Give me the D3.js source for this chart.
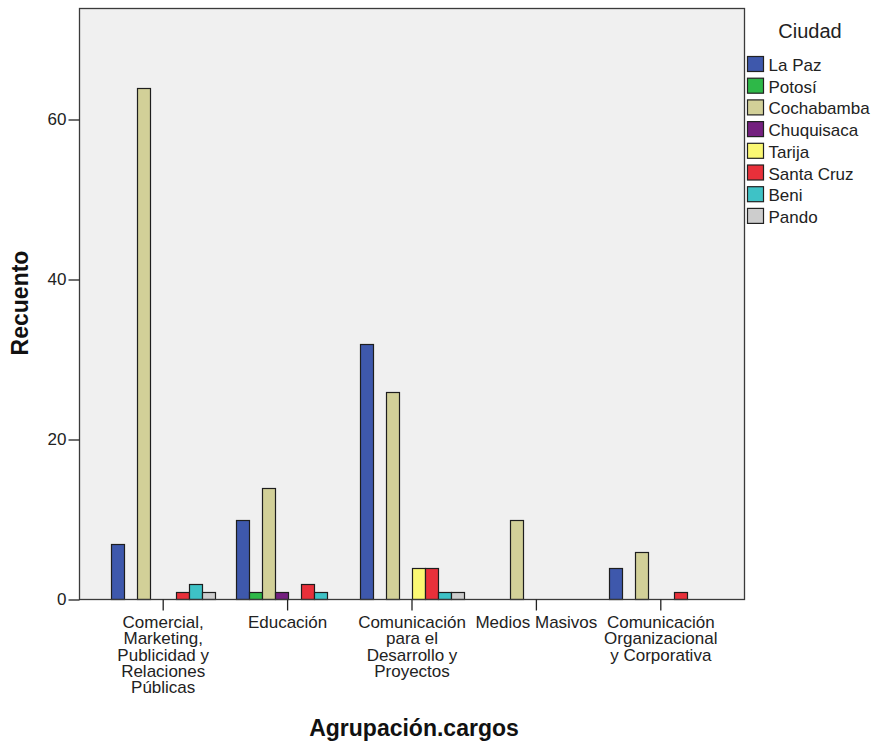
<!DOCTYPE html>
<html><head><meta charset="utf-8">
<script src="https://cdn.jsdelivr.net/npm/d3@7"></script>
<style>body{margin:0;background:#fff}svg{display:block}text{font-family:"Liberation Sans",Arial,sans-serif}</style>
</head><body><svg id="c" width="874" height="744"></svg>
<script>
const categories = ["Comercial, Marketing, Publicidad y Relaciones Públicas","Educación","Comunicación para el Desarrollo y Proyectos","Medios Masivos","Comunicación Organizacional y Corporativa"];
const categoryLines = [["Comercial,","Marketing,","Publicidad y","Relaciones","Públicas"],["Educación"],["Comunicación","para el","Desarrollo y","Proyectos"],["Medios Masivos"],["Comunicación","Organizacional","y Corporativa"]];
const cities = ["La Paz","Potosí","Cochabamba","Chuquisaca","Tarija","Santa Cruz","Beni","Pando"];
const cityColors = ["#3e58ac","#2eb848","#d2d098","#74207f","#fbf873","#e8303a","#3ec2c6","#cdcdcd"];
const laPaz      = [7, 10, 32, 0, 4];
const potosi     = [0, 1, 0, 0, 0];
const cochabamba = [64, 14, 26, 10, 6];
const chuquisaca = [0, 1, 0, 0, 0];
const tarija     = [0, 0, 4, 0, 0];
const santaCruz  = [1, 2, 4, 0, 1];
const beni       = [2, 1, 1, 0, 0];
const pando      = [1, 0, 1, 0, 0];
const yTicks = [0, 20, 40, 60];
const series = [laPaz, potosi, cochabamba, chuquisaca, tarija, santaCruz, beni, pando];

const svg = d3.select("#c");
const L = 79.5, R = 744.5, T = 8.5, B = 599.5;
const x0 = d3.scaleBand().domain(categories).range([L + 21.5, R - 21.5]).paddingInner(0.163).paddingOuter(0.0815);
const x1 = d3.scaleBand().domain(cities).range([0, x0.bandwidth()]);
const y = d3.scaleLinear().domain([0, 73.875]).range([B, T]);

svg.append("rect").attr("x", L).attr("y", T).attr("width", R - L).attr("height", B - T).attr("fill", "#f0f0f0");

const groups = svg.append("g").selectAll("g").data(categories).join("g");
groups.selectAll("rect").data((d, i) => cities.map((c, j) => ({cat: d, c, j, v: series[j][i]})).filter(o => o.v > 0))
  .join("rect")
  .attr("x", o => Math.round(x0(o.cat) + x1(o.c)) + 0.5)
  .attr("width", Math.round(x1.bandwidth()))
  .attr("y", o => Math.round(y(o.v)) + 0.5)
  .attr("height", o => B - (Math.round(y(o.v)) + 0.5))
  .attr("fill", o => cityColors[o.j])
  .attr("stroke", "#1e1e1e").attr("stroke-width", 1.2);

// frame
svg.append("rect").attr("x", L).attr("y", T).attr("width", R - L).attr("height", B - T)
  .attr("fill", "none").attr("stroke", "#3a3a3a").attr("stroke-width", 1.3);

// y axis
const ya = svg.append("g").attr("transform", `translate(${L},0)`)
  .call(d3.axisLeft(y).tickValues(yTicks).tickSize(11).tickPadding(2).tickFormat(d3.format("d")));
ya.select(".domain").remove();
ya.selectAll("line").attr("stroke", "#222").attr("stroke-width", 1.3);
ya.selectAll("text").attr("font-size", 17).attr("fill", "#222").attr("font-family", "Liberation Sans, Arial, sans-serif");

// x axis
const xa = svg.append("g").attr("transform", `translate(0,${B})`)
  .call(d3.axisBottom(x0).tickSize(11).tickFormat(""));
xa.select(".domain").remove();
xa.selectAll("line").attr("stroke", "#222").attr("stroke-width", 1.3);
categories.forEach((c, i) => {
  const cx = x0(c) + x0.bandwidth() / 2;
  const t = svg.append("text").attr("text-anchor", "middle").attr("font-size", 17).attr("fill", "#222");
  categoryLines[i].forEach((ln, k) => t.append("tspan").attr("x", cx).attr("y", 628 + k * 16.3).text(ln));
});

// axis titles
svg.append("text").attr("x", 414).attr("y", 736).attr("text-anchor", "middle")
  .attr("font-size", 23).attr("font-weight", "bold").attr("fill", "#111").text("Agrupación.cargos");
svg.append("text").attr("transform", "translate(28,303) rotate(-90)").attr("text-anchor", "middle")
  .attr("font-size", 23).attr("font-weight", "bold").attr("fill", "#111").text("Recuento");

// legend
svg.append("text").attr("x", 810).attr("y", 38).attr("text-anchor", "middle").attr("font-size", 20).attr("fill", "#222").text("Ciudad");
const lg = svg.append("g").selectAll("g").data(cities).join("g")
  .attr("transform", (d, i) => `translate(747.5,${56.5 + i * 21.7})`);
lg.append("rect").attr("width", 16).attr("height", 15).attr("fill", (d, i) => cityColors[i]).attr("stroke", "#222").attr("stroke-width", 1.2);
lg.append("text").attr("x", 21).attr("y", 14.5).attr("font-size", 17).attr("fill", "#222").text(d => d);
</script></body></html>
